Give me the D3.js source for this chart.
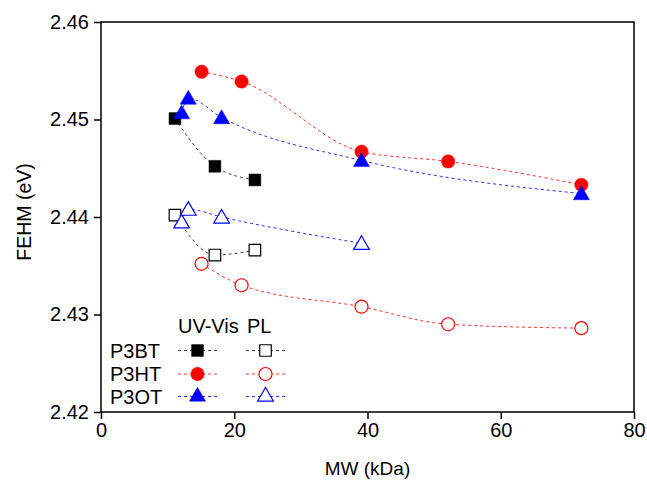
<!DOCTYPE html>
<html><head><meta charset="utf-8">
<script src="https://cdn.jsdelivr.net/npm/d3@7/dist/d3.min.js"></script>
<style>body{margin:0;background:#fff}svg{display:block}text{font-family:"Liberation Sans",Arial,sans-serif;fill:#000}</style>
</head><body>
<script>
const xTicks = [0, 20, 40, 60, 80];
const yTicks = [2.42, 2.43, 2.44, 2.45, 2.46];
const legendHeaders = ["UV-Vis", "PL"];

const p3btUV_x = [11.1, 17.1, 23.1];
const p3btUV_y = [2.4501, 2.4452, 2.4438];
const p3htUV_x = [15.1, 21.1, 39.1, 52.1, 72.1];
const p3htUV_y = [2.4549, 2.4539, 2.4467, 2.4457, 2.4433];
const p3otUV_x = [12.1, 13.1, 18.1, 39.1, 72.1];
const p3otUV_y = [2.4507, 2.4522, 2.4502, 2.4458, 2.4424];

const p3btPL_x = [11.1, 17.1, 23.1];
const p3btPL_y = [2.4402, 2.4361, 2.4366];
const p3htPL_x = [15.1, 21.1, 39.1, 52.1, 72.1];
const p3htPL_y = [2.4352, 2.4330, 2.4308, 2.4290, 2.4286];
const p3otPL_x = [12.1, 13.1, 18.1, 39.1];
const p3otPL_y = [2.4395, 2.4408, 2.4400, 2.4373];

const seriesNames = ["P3BT", "P3HT", "P3OT"];

const W = 647, H = 481;
const m = {l: 101, r: 13, t: 22, b: 69};
const svg = d3.select("body").append("svg").attr("width", W).attr("height", H);
const x = d3.scaleLinear().domain([0, 80]).range([m.l, W - m.r]);
const y = d3.scaleLinear().domain([2.42, 2.46]).range([H - m.b, m.t]);

const styles = [
  {name: "P3BT", color: "#000", line: "#444", sym: d3.symbolSquare, size: 140},
  {name: "P3HT", color: "#ff0000", line: "#ff3030", sym: d3.symbolCircle, size: 140},
  {name: "P3OT", color: "#0000ff", line: "#3030ff", sym: d3.symbolTriangle, size: 112}
];
const series = [
  {s: 0, open: false, xs: p3btUV_x, ys: p3btUV_y},
  {s: 1, open: false, xs: p3htUV_x, ys: p3htUV_y},
  {s: 2, open: false, xs: p3otUV_x, ys: p3otUV_y},
  {s: 0, open: true, xs: p3btPL_x, ys: p3btPL_y},
  {s: 1, open: true, xs: p3htPL_x, ys: p3htPL_y},
  {s: 2, open: true, xs: p3otPL_x, ys: p3otPL_y}
];

// axes
const gx = svg.append("g").attr("transform", `translate(0,${H - m.b})`)
  .call(d3.axisBottom(x).tickValues(xTicks).tickSize(7).tickPadding(4).tickFormat(d3.format("d")));
const gy = svg.append("g").attr("transform", `translate(${m.l},0)`)
  .call(d3.axisLeft(y).tickValues(yTicks).tickSize(7).tickPadding(5).tickFormat(d3.format(".2f")));
[gx, gy].forEach(g => {
  g.select(".domain").remove();
  g.selectAll("line").attr("stroke", "#000").attr("stroke-width", 1.5);
  g.selectAll("text").style("font-size", "20px").attr("fill", "#000");
});
gx.selectAll("text").attr("dy", "0.72em");
svg.append("rect").attr("x", m.l).attr("y", m.t).attr("width", W - m.r - m.l).attr("height", H - m.b - m.t)
  .attr("fill", "none").attr("stroke", "#000").attr("stroke-width", 1.5);

svg.append("text").attr("x", x(40)).attr("y", 475).attr("text-anchor", "middle").style("font-size", "19px").text("MW (kDa)");
svg.append("text").attr("transform", `translate(31,212) rotate(-90)`).attr("text-anchor", "middle").style("font-size", "19.5px").text("FEHM (eV)");

const line = d3.line().curve(d3.curveMonotoneX).x(d => x(d[0])).y(d => y(d[1]));
function marker(g, st, open, cx, cy) {
  const dy = st.sym === d3.symbolTriangle ? 1.5 : 0;
  g.append("path").attr("d", d3.symbol().type(st.sym).size(open ? st.size * 0.95 : st.size)())
    .attr("transform", `translate(${cx},${cy + dy})`)
    .attr("fill", open ? "#fff" : st.color)
    .attr("stroke", st.color).attr("stroke-width", open ? 1.2 : 0.5);
}
series.forEach(sr => {
  const st = styles[sr.s];
  const pts = sr.xs.map((v, i) => [v, sr.ys[i]]);
  svg.append("path").attr("d", line(pts)).attr("fill", "none")
    .attr("stroke", st.line).attr("stroke-width", 1).attr("stroke-dasharray", "3,3");
});
series.forEach(sr => {
  const st = styles[sr.s];
  const g = svg.append("g");
  sr.xs.forEach((v, i) => marker(g, st, sr.open, x(v), y(sr.ys[i])));
});

// legend
const lg = svg.append("g");
lg.append("text").attr("x", 178).attr("y", 333).style("font-size", "20px").text(legendHeaders[0]);
lg.append("text").attr("x", 247).attr("y", 333).style("font-size", "20px").text(legendHeaders[1]);
const rowY = [350.5, 374, 396.5];
seriesNames.forEach((n, i) => {
  const st = styles[i];
  lg.append("text").attr("x", 110).attr("y", rowY[i] + 7).style("font-size", "20px").text(n);
  [[178, 217, false], [246, 285, true]].forEach(([a, b, open]) => {
    lg.append("line").attr("x1", a).attr("x2", b).attr("y1", rowY[i]).attr("y2", rowY[i])
      .attr("stroke", st.line).attr("stroke-width", 1).attr("stroke-dasharray", "3,3");
    marker(lg, st, open, (a + b) / 2, rowY[i] - (st.sym === d3.symbolTriangle ? 1.5 : 0));
  });
});
</script>
</body></html>
